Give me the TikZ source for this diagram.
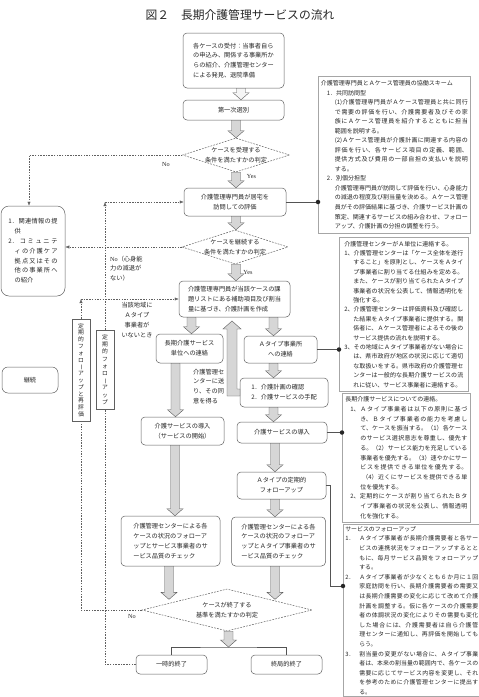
\documentclass[tikz,border=0pt]{standalone}
\usepackage{fontspec}
\setmainfont{Noto Sans CJK JP}
\newfontfamily\lserif{Liberation Serif}
\usepackage{graphicx}
\usetikzlibrary{shapes.geometric,arrows.meta,calc}
\XeTeXlinebreaklocale "ja"
\XeTeXlinebreakskip=0pt plus 3pt
\tolerance=10000
\hbadness=10000
\hfuzz=5pt
\setlength{\parindent}{0pt}
\setlength{\parskip}{0pt}
\newcommand\fsz[2]{\fontsize{#1pt}{#2pt}\selectfont}
\newcommand\vchoon{\rotatebox[origin=c]{-90}{ー}}
\newcommand\barrow[4][gray!32]{%
  \filldraw[fill=#1,draw=gray!70!black,line width=0.4pt]
    let \p1=#3, \p2=#4 in
    (#2pt-4.5pt,\y1) -- (#2pt-4.5pt,\y2+7pt) -- (#2pt-8pt,\y2+7pt) -- (#2pt,\y2)
    -- (#2pt+8pt,\y2+7pt) -- (#2pt+4.5pt,\y2+7pt) -- (#2pt+4.5pt,\y1) -- cycle;}
\tikzset{
  flowbox/.style={draw=gray!75!black, line width=0.5pt, rounded corners=4pt, fill=white,
    align=center, font=\fsz{6.2}{9.8}, text=black!85, inner sep=1pt},
  decis/.style={diamond, draw=gray!75!black, line width=0.5pt, dash pattern=on 1.8pt off 1.2pt,
    inner sep=0pt, fill=white},
  ftext/.style={align=center, font=\fsz{6.2}{9.8}, text=black!85, inner sep=0pt},
  notebox/.style={draw=gray!70, line width=0.6pt, anchor=north west, align=justify,
    text=black!85, inner ysep=1pt, fill=white},
  dashline/.style={draw=gray!75!black, line width=0.45pt, dash pattern=on 1.5pt off 1.2pt},
  arr/.style={-{Latex[length=4pt,width=3.2pt]}},
  solidline/.style={draw=gray!65!black, line width=0.55pt},
  kdot/.style={circle, fill=black!85, inner sep=0pt, minimum size=4.5pt},
  vtbox/.style={draw=gray!75!black, line width=0.5pt, fill=white, align=center,
    text=black!85, inner sep=0pt, minimum width=18pt},
  lbl/.style={font=\fsz{6.2}{9.8}, text=black!85, inner sep=0pt},
}
\begin{document}
\begin{tikzpicture}[x=1pt,y=-1pt]
\path[use as bounding box, fill=white] (0,0) rectangle (479,697);

\node[lbl, font=\fsz{11.8}{14}] (title) at (240,15) {図２　長期介護管理サービスの流れ};

% main flow
\node[flowbox, align=left, minimum width=101pt, minimum height=55pt] (top) at (233.5,60.5)
  {各ケースの受付：当事者自ら\\の申込み、関係する事業所か\\らの紹介、介護管理センター\\による発見、退院準備};
\node[flowbox, minimum width=101pt, minimum height=20pt] (sen) at (233.5,110) {第一次選別};
\node[decis, minimum width=107pt, minimum height=34pt] (d1) at (236,155) {};
\node[ftext] (d1t) at (d1) {ケースを受理する\\条件を満たすかの判定};
\node[flowbox, minimum width=102pt, minimum height=28pt] (eval) at (235,202) {介護管理専門員が居宅を\\訪問しての評価};
\node[decis, minimum width=106pt, minimum height=34pt] (d2) at (235,247) {};
\node[ftext] (d2t) at (d2) {ケースを継続する\\条件を満たすかの判定};
\node[flowbox, align=left, minimum width=111pt, minimum height=36pt] (plan) at (234.5,299)
  {介護管理専門員が当該ケースの課\\題リストにある補助項目及び割当\\量に基づき、介護計画を作成};
\node[flowbox, minimum width=67pt, minimum height=29pt] (lcon) at (189.5,348.5) {長期介護サービス\\単位への連絡};
\node[flowbox, minimum width=73pt, minimum height=27pt] (acon) at (280.5,349.5) {Ａタイプ事業所\\への連絡};
\node[flowbox, align=left, minimum width=88pt, minimum height=29pt] (conf) at (284,392.5) {1．介護計画の確認\\2．介護サービスの手配};
\node[flowbox, minimum width=83pt, minimum height=28pt] (lint) at (182.5,431) {介護サービスの導入\\（サービスの開始）};
\node[flowbox, minimum width=90pt, minimum height=21pt] (rint) at (282,432.5) {介護サービスの導入};
\node[flowbox, minimum width=89pt, minimum height=27pt] (afol) at (281.5,485.5) {Ａタイプの定期的\\フォローアップ};
\node[flowbox, align=left, minimum width=99pt, minimum height=50pt] (lchk) at (170.5,541)
  {介護管理センターによる各\\ケースの状況のフォローア\\ップとサービス事業者のサ\\ービス品質のチェック};
\node[flowbox, align=left, minimum width=94pt, minimum height=49pt] (rchk) at (278.5,541.5)
  {介護管理センターによる各\\ケースの状況のフォローア\\ップとＡタイプ事業者のサ\\ービス品質のチェック};
\node[decis, minimum width=170pt, minimum height=42pt] (d3) at (227,610) {};
\node[ftext] (d3t) at (d3) {ケースが終了する\\基準を満たすかの判定};
\node[flowbox, minimum width=71pt, minimum height=19pt] (tend) at (171.5,664.5) {一時的終了};
\node[flowbox, minimum width=71pt, minimum height=19pt] (fend) at (286.5,664.5) {終局的終了};

% left side
\node[flowbox, rounded corners=8pt, minimum width=64pt, minimum height=90pt, text width=49pt, align=justify] (lb) at (33,251)
  {\hangindent=6.2pt\hangafter=1 1．関連情報の提\break 供\par
   \hangindent=6.2pt\hangafter=1 2．コミュニテ\break ィの介護ケア\break 拠点又はその\break 他の事業所へ\break の紹介\par};
\node[flowbox, rounded corners=6pt, minimum width=56pt, minimum height=26pt] (cont) at (30,380) {継続};
\node[vtbox, minimum height=102pt, font=\fsz{5.8}{6.8}] (vb1) at (81,370)
  {定\\期\\的\\フ\\ォ\\ロ\\\vchoon\\ア\\ッ\\プ\\と\\再\\評\\価};
\node[vtbox, minimum height=79pt, font=\fsz{5.8}{7.2}] (vb2) at (105,369.5)
  {定\\期\\的\\フ\\ォ\\ロ\\\vchoon\\ア\\ッ\\プ};

% labels
\node[lbl] (no1) at (166,164) {\lserif No};
\node[lbl] (yes1) at (251.5,176) {\lserif Yes};
\node[lbl] (yes2) at (248,272) {\lserif Yes};
\node[lbl, align=left, anchor=west] (no2) at (110,268.5) {{\lserif No}（心身能\\力の減退が\\ない）};
\node[lbl, align=center] (nolab) at (137,320) {当該地域に\\Ａタイプ\\事業者が\\いないとき};
\node[lbl, align=left, anchor=west] (sendlab) at (193,386.5) {介護管理セ\\ンターに送\\り、その同\\意を得る};
\node[lbl] (no3) at (132,616) {\lserif No};

% right note boxes
\node[notebox, text width=147pt, inner xsep=2.5pt, minimum height=157pt, font=\fsz{6}{9.53}] (rb1) at (318,76) {%
介護管理専門員とＡケース管理員の協働スキーム\par
{\leftskip=6pt 1．共同訪問型\par}%
{\leftskip=14pt (1)介護管理専門員がＡケース管理員と共に同行\break で需要の評価を行い、介護需要者及びその家\break 族にＡケース管理員を紹介するとともに担当\break 範囲を説明する。\par
(2)Ａケース管理員が介護計画に関連する内容の\break 評価を行い、各サービス項目の定義、範囲、\break 提供方式及び費用の一部自担の支払いを説明\break する。\par}%
{\leftskip=6pt 2．別個分担型\par}%
{\leftskip=14pt 介護管理専門員が訪問して評価を行い、心身能力\break の減退の程度及び割当量を決める。Ａケース管理\break 員がその評価結果に基づき、介護サービス計画の\break 策定、関連するサービスの組み合わせ、フォロー\break アップ、介護計画の分担の調整を行う。\par}};

\node[notebox, text width=119pt, inner xsep=5pt, minimum height=154pt, font=\fsz{6}{9.4}] (rb2) at (339,237) {%
介護管理センターがＡ単位に連絡する。\par
\hangindent=9pt\hangafter=1 1、介護管理センターは「ケース全体を遂行\break すること」を原則とし、ケースをＡタイ\break プ事業者に割り当てる仕組みを定める。\break また、ケースが割り当てられたＡタイプ\break 事業者の状況を公表して、情報透明化を\break 強化する。\par
\hangindent=9pt\hangafter=1 2、介護管理センターは評価資料及び確認し\break た結果をＡタイプ事業者に提供する。関\break 係者に、Ａケース管理者によるその後の\break サービス提供の流れを説明する。\par
\hangindent=9pt\hangafter=1 3、その地域にＡタイプ事業者がない場合に\break は、県市政府が地区の状況に応じて適切\break な取扱いをする。県市政府の介護管理セ\break ンターは一般的な長期介護サービスの流\break れに従い、サービス事業者に連絡する。\par};

\node[notebox, text width=122pt, inner xsep=3pt, minimum height=129pt, font=\fsz{6}{9.7}] (rb3) at (342,393) {%
長期介護サービスについての連絡。\par
{\leftskip=5pt\hangindent=10pt\hangafter=1 1、Ａタイプ事業者は以下の原則に基づ\break き、Ｂタイプ事業者の能力を考慮し\break て、ケースを振当する。（1）各ケース\break のサービス選択意志を尊重し、優先す\break る。（2）サービス能力を充足している\break 事業者を優先する。（3）速やかにサー\break ビスを提供できる単位を優先する。\break \hspace*{2pt}（4）近くにサービスを提供できる単\break 位を優先する。\par
\hangindent=10pt\hangafter=1 2、定期的にケースが割り当てられたＢタ\break イプ事業者の状況を公表し、情報透明\break 化を強化する。\par}};

\node[notebox, text width=133pt, inner xsep=2pt, inner ysep=2pt, font=\fsz{5.9}{9.6}] (rb4) at (343,524) {%
サービスのフォローアップ\par
\hangindent=14pt\hangafter=1 \makebox[14pt][l]{1．}Ａタイプ事業者が長期介護需要者と各サー\break ビスの連携状況をフォローアップするとと\break もに、毎月サービス品質をフォローアップ\break する。\par
\hangindent=14pt\hangafter=1 \makebox[14pt][l]{2．}Ａタイプ事業者が少なくとも６か月に１回\break 家庭訪問を行い、長期介護需要者の需要又\break は長期介護需要の変化に応じて改めて介護\break 計画を調整する。仮に各ケースの介護需要\break 者の体調状況の変化によりその需要も変化\break した場合には、介護需要者は自ら介護管\break 理センターに通知し、再評価を開始しても\break らう。\par
\hangindent=14pt\hangafter=1 \makebox[14pt][l]{3．}割当量の変更がない場合に、Ａタイプ事業\break 者は、本来の割当量の範囲内で、各ケースの\break 需要に応じてサービス内容を変更し、それ\break を参考のために介護管理センターに提出す\break る。\par};

% block arrows
\barrow[gray!8]{241}{(top.south)}{(sen.north)}
\barrow{236}{(sen.south)}{(d1.north)}
\barrow{236}{(d1.south)}{(eval.north)}
\barrow{236}{(eval.south)}{(d2.north)}
\barrow{236}{(d2.south)}{(plan.north)}
\barrow{191.5}{(plan.south)}{(lcon.north)}
\barrow{273.5}{(plan.south)}{(acon.north)}
\barrow{175.5}{(lcon.south)}{(lint.north)}
\barrow{273.5}{(acon.south)}{(conf.north)}
\barrow{273.5}{(conf.south)}{(rint.north)}
\barrow{275}{(rint.south)}{(afol.north)}
\barrow{275}{(afol.south)}{(rchk.north)}
\barrow{175}{(lint.south)}{(lchk.north)}
\barrow{169}{(lchk.south)}{(d3.north west)}
\barrow{275}{(rchk.south)}{(d3.north east)}
\coordinate (brk) at (228.5,647);
\barrow{228.5}{(d3.south)}{(brk)}
% L-shaped return arrow from conf to plan
\filldraw[fill=gray!32,draw=gray!70!black,line width=0.4pt]
  (227,396) -- (227,329) -- (223,329) -- (232,321) -- (241,329) -- (237,329) -- (237,389) -- (240,389) -- (240,396) -- cycle;

% bracket to terminations
\draw[solidline] (tend.north) |- (brk) -| (fend.north);

% dashed connectors
\coordinate (cx1) at (29,0);
\draw[dashline, arr] (d1.west) -| (cx1 |- lb.north);
\draw[dashline, arr] (d2.west) -- (d2.west -| lb.east);
\draw[dashline] (tend.west) -| (vb2.south);
\draw[dashline, arr] (vb2.north) -- (vb2.north |- eval.west) coordinate (la2);
\draw[dashline, arr] (la2) -- (eval.west);
\draw[dashline] (d3.west) -| (vb1.south);
\draw[dashline, arr] (vb1.north) -- (vb1.north |- plan.west) coordinate (lb2);
\draw[dashline, arr] (lb2) -- (plan.west);

% solid connectors to note boxes
\draw[solidline] (eval.east) -- (eval.east -| rb1.west) node[kdot] (k1) {};
\draw[solidline] (acon.east) -- (acon.east -| rb2.west) node[kdot] (k2) {};
\draw[solidline] (rint.east) -- (rint.east -| rb3.west) node[kdot] (k3) {};
\coordinate (k4) at (343,586);
\draw[solidline] (afol.east) -- ++(4.5,0) |- (k4) node[kdot] (k4d) {};
\end{tikzpicture}
\end{document}
